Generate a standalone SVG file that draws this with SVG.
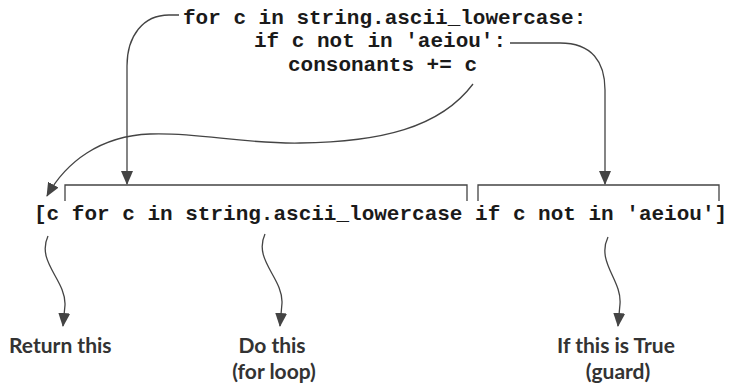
<svg xmlns="http://www.w3.org/2000/svg" width="732" height="385" viewBox="0 0 732 385">
<style>
.code{font-family:"Liberation Mono","Courier New",monospace;font-weight:bold;font-size:21px;fill:#1a1a1a}
.lbl{font-family:Lato,"Open Sans",sans-serif;font-weight:bold;font-size:21px;fill:#333}
.ln{fill:none;stroke:#444;stroke-width:1.3}
</style>
<defs>
<marker id="ah" viewBox="0 0 14 12" refX="13" refY="6" markerWidth="14" markerHeight="12" markerUnits="userSpaceOnUse" orient="auto">
<path d="M0,0 L14,6 L0,12 z" fill="#444"/>
</marker>
</defs>
<rect width="732" height="385" fill="#fff"/>
<g id="loop-code">
<text class="code" x="183" y="24">for c in string.ascii_lowercase:</text>
<text class="code" x="254" y="47">if c not in 'aeiou':</text>
<text class="code" x="288" y="71">consonants += c</text>
</g>
<g id="comprehension">
<text class="code" x="34" y="220">[c for c in string.ascii_lowercase if c not in 'aeiou']</text>
<path class="ln" d="M65,201 V185 H467 V201"/>
<path class="ln" d="M478,201 V185 H719 V201"/>
</g>
<g id="label-return"><text class="lbl" x="9" y="353">Return this</text></g>
<g id="label-do"><text class="lbl" x="272" y="353" text-anchor="middle">Do this</text><text class="lbl" x="274" y="379" text-anchor="middle">(for loop)</text></g>
<g id="label-guard"><text class="lbl" x="616" y="353" text-anchor="middle">If this is True</text><text class="lbl" x="618" y="379" text-anchor="middle">(guard)</text></g>
<g id="connectors">
<path class="ln" marker-end="url(#ah)" d="M179,15 L169,15 C143,15 127,36 127,66 L127,184"/>
<path class="ln" marker-end="url(#ah)" d="M510,43 L560,43 C592,43 605,62 605,90 L605,184"/>
<path class="ln" marker-end="url(#ah)" d="M473,84 C440,128 380,142 300,143 C240,144 200,132 150,134 C100,136 66,162 47,196"/>
<path class="ln" marker-end="url(#ah)" d="M48,236 C36,262 66,280 65,305 L63,326"/>
<path class="ln" marker-end="url(#ah)" d="M265,234 C253,260 283,278 282,303 L280,326"/>
<path class="ln" marker-end="url(#ah)" d="M608,237 C596,262 622,280 620,304 L618,326"/>
</g>
</svg>
